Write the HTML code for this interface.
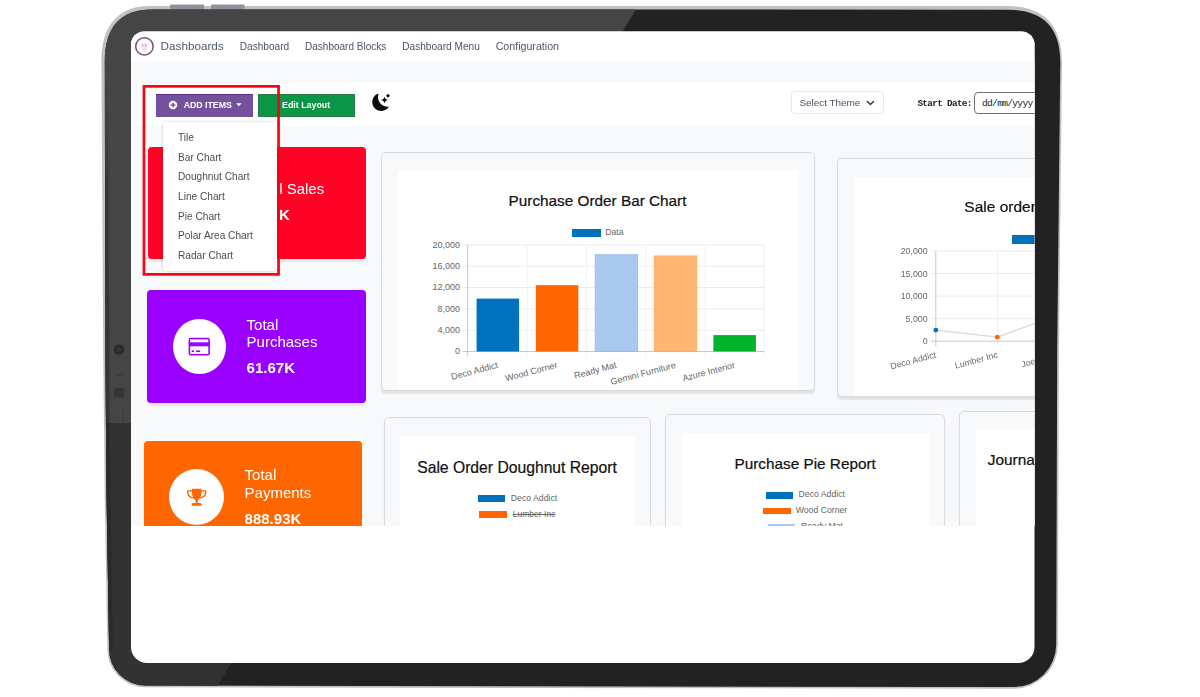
<!DOCTYPE html>
<html>
<head>
<meta charset="utf-8">
<title>Dashboards</title>
<style>
html,body{margin:0;padding:0;background:#fff;}
body{width:1200px;height:697px;position:relative;overflow:hidden;font-family:"Liberation Sans",sans-serif;}
.abs{position:absolute;}
#frame{position:absolute;left:0;top:0;width:1200px;height:697px;}
#screen{position:absolute;left:0;top:0;width:1200px;height:697px;background:#fff;
  clip-path:path("M144 31.5 H1021.5 A13 13 0 0 1 1034.5 44.5 V647 A16 16 0 0 1 1018.5 663 H147 A16 16 0 0 1 131 647 V44.5 A13 13 0 0 1 144 31.5 Z");}
#page{position:absolute;left:0;top:0;width:1200px;height:525.6px;overflow:hidden;background:#fff;}
#blur{position:absolute;left:0;top:0;width:1200px;height:540px;filter:blur(0.35px);}
.t{position:absolute;white-space:pre;line-height:1;}
.nav{color:#4a5568;font-size:10.15px;top:41.9px;}
.mi{color:#4d4d4d;font-size:10.15px;left:178px;}
.card{position:absolute;background:#f8f9fa;border:1px solid #d9dadb;border-radius:5px;box-sizing:border-box;box-shadow:0 3px 1.5px -0.5px rgba(0,0,0,.085);}
.white{position:absolute;background:#fff;}
.title{color:#111;-webkit-text-stroke:0.22px #111;}
.tile{position:absolute;border-radius:4px;box-shadow:0 3.2px 1.5px -0.5px rgba(0,0,0,.065);}
.circ{position:absolute;width:53.2px;height:53.2px;border-radius:50%;background:#fff;}
.tl{color:#fff;font-size:15px;}
.tv{color:#fff;font-size:15px;font-weight:700;}
.ax{color:#666;font-size:8.8px;}
.lg{color:#666;font-size:8.7px;}
</style>
</head>
<body>

<!-- tablet frame -->
<svg id="frame" viewBox="0 0 1200 697">
  <defs>
    <clipPath id="fc"><path d="M152 9.4 L1008 9.7 C1040 9.7 1060.3 24 1060.3 62 L1057.2 350 L1056.2 644.5 A42.6 42.6 0 0 1 1013.5 687.1 L145.4 685.6 A36.3 36.3 0 0 1 109.1 649 L106.6 500 L105.3 349 L104.8 62 C104.8 25 122 9.4 152 9.4 Z"/></clipPath>
    <filter id="fb" x="-5%" y="-5%" width="110%" height="110%"><feGaussianBlur stdDeviation="0.75"/></filter>
    <filter id="fb2" x="-5%" y="-5%" width="110%" height="110%"><feGaussianBlur stdDeviation="0.45"/></filter>
    <linearGradient id="lg1" x1="0" y1="0" x2="0" y2="1">
      <stop offset="0" stop-color="#444" stop-opacity="0"/>
      <stop offset="0.35" stop-color="#353535" stop-opacity="1"/>
      <stop offset="1" stop-color="#353535" stop-opacity="1"/>
    </linearGradient>
  </defs>
  <!-- soft light rim -->
  <g filter="url(#fb)">
    <path d="M150 5.9 L1008 6.1 C1041 6.1 1062 22.5 1062 62 L1058.9 350 L1057.9 644.5 A44.3 44.3 0 0 1 1013.5 688.8 L145.4 687.3 A38 38 0 0 1 107.4 649 L104.7 500 L103.2 349 L101.7 100 L101.4 62 C101.4 23 120 5.9 150 5.9 Z" fill="#c0c1c5"/>
  </g>
  <!-- side buttons -->
  <rect x="170" y="4.4" width="34" height="5" rx="1.2" fill="#8e9198" filter="url(#fb2)"/>
  <rect x="211" y="4.4" width="33.5" height="5" rx="1.2" fill="#8e9198" filter="url(#fb2)"/>
  <g filter="url(#fb2)">
  <g clip-path="url(#fc)">
    <rect x="90" y="0" width="1000" height="697" fill="#202020"/>
    <polygon points="90,0 642,0 621,34 150,34 150,423 90,423" fill="#444444"/>
    <polygon points="90,423 150,423 150,655 236,655 214,692 90,692" fill="#303030"/>
    <polygon points="100,60 108,60 109.6,423 100,423" fill="url(#lg1)"/>
    <polygon points="100,423 109.6,423 112.5,650 100,650" fill="#2a2a2a"/>
    <!-- camera + sensors -->
    <circle cx="119" cy="349.5" r="5.2" fill="#2c2c2c"/>
    <circle cx="119" cy="349.5" r="2.6" fill="#2d353b"/>
    <path d="M115.5 373.5 Q119 377.5 122.5 373.5" stroke="#333" stroke-width="1" fill="none"/>
    <rect x="113.5" y="388" width="11" height="9.5" rx="3.5" fill="#363636"/>
    <rect x="122" y="412" width="1.4" height="3" fill="#383838"/>
    <rect x="122" y="418" width="1.4" height="3" fill="#383838"/>
  </g>
  </g>
</svg>

<div id="screen">
<div id="page"><div id="blur">
  <!-- backgrounds -->
  <div class="abs" style="left:131px;top:61.8px;width:904px;height:470px;background:#f8f9fb;"></div>
  <div class="abs" style="left:138.2px;top:83px;width:900px;height:42.6px;background:#fff;"></div>

  <!-- navbar -->
  <svg class="abs" style="left:133px;top:34.5px" width="23" height="23" viewBox="0 0 23 23">
    <circle cx="11.4" cy="11.4" r="8.7" fill="#fff" stroke="#7c4a82" stroke-width="1.5"/>
    <circle cx="11.4" cy="11.6" r="4" fill="#f6eef2"/>
    <rect x="9.2" y="9" width="1.5" height="2.6" fill="#dcb6cf" opacity=".8"/>
    <rect x="11.7" y="8.6" width="1.9" height="3.4" fill="#cdb0d6" opacity=".8"/>
    <rect x="10" y="13.4" width="2.8" height="1" fill="#ecc9c4" opacity=".8"/>
  </svg>
  <div class="t" style="left:160.6px;top:39.6px;font-size:11.7px;color:#4b586b;">Dashboards</div>
  <div class="t nav" style="left:239.7px;">Dashboard</div>
  <div class="t nav" style="left:305px;font-size:10.02px;">Dashboard Blocks</div>
  <div class="t nav" style="left:402.2px;">Dashboard Menu</div>
  <div class="t nav" style="left:495.7px;font-size:10.65px;top:40.9px;">Configuration</div>

  <!-- red tile (behind dropdown) -->
  <div class="tile" style="left:148.4px;top:146.9px;width:217.8px;height:112px;background:#ff0226;"></div>
  <div class="t tl" style="left:250.8px;top:181.2px;"><span style="color:transparent">Tota</span>l Sales</div>
  <div class="t tv" style="left:279px;top:207.4px;">K</div>

  <!-- toolbar buttons -->
  <div class="abs" style="left:156.1px;top:93.5px;width:97.2px;height:23.5px;background:#75509c;border-top:1px solid #5e3188;box-sizing:border-box;"></div>
  <svg class="abs" style="left:167.7px;top:100.1px" width="10" height="10" viewBox="0 0 10 10">
    <circle cx="5" cy="5" r="4.2" fill="#fff"/>
    <rect x="2.6" y="4.25" width="4.8" height="1.5" fill="#75509c"/>
    <rect x="4.25" y="2.6" width="1.5" height="4.8" fill="#75509c"/>
  </svg>
  <div class="t" style="left:183.7px;top:100.7px;font-size:8.75px;font-weight:700;color:#fff;">ADD ITEMS</div>
  <svg class="abs" style="left:235.6px;top:103.2px" width="6" height="4" viewBox="0 0 6 4"><path d="M0.2 0.3 L5.6 0.3 L2.9 3.3 Z" fill="#fff"/></svg>

  <div class="abs" style="left:258.2px;top:93.5px;width:96.9px;height:23.5px;background:#0a9647;border:1px solid #2a7a45;box-sizing:border-box;"></div>
  <div class="t" style="left:282px;top:100.5px;font-size:8.85px;font-weight:700;color:#fff;">Edit Layout</div>

  <!-- moon icon -->
  <svg class="abs" style="left:370px;top:91px" width="22" height="22" viewBox="0 0 22 22">
    <path d="M8.67 2.44 A8.95 8.95 0 1 0 18.83 15.7 A9.75 9.75 0 0 1 8.67 2.44 Z" fill="#0b0b0b"/>
    <path d="M14.5 5.7 L15.55 7.95 L17.8 9 L15.55 10.05 L14.5 12.3 L13.45 10.05 L11.2 9 L13.45 7.95 Z" fill="#0b0b0b"/>
    <path d="M17.97 2.7 L19.9 4.68 L17.97 6.66 L16.04 4.68 Z" fill="#0b0b0b"/>
  </svg>

  <!-- select theme -->
  <div class="abs" style="left:791.2px;top:91.3px;width:92.6px;height:23.2px;background:#fff;border:1px solid #e7e8ea;border-radius:4px;box-sizing:border-box;"></div>
  <div class="t" style="left:799.4px;top:98.4px;font-size:9.92px;color:#4a5261;">Select Theme</div>
  <svg class="abs" style="left:865.5px;top:100.3px" width="9" height="6" viewBox="0 0 9 6"><path d="M0.9 1 L4.4 4.5 L7.9 1" fill="none" stroke="#333" stroke-width="1.3"/></svg>

  <!-- start date -->
  <div class="t" style="left:917.4px;top:98.9px;font-size:9.4px;letter-spacing:-0.69px;font-weight:700;color:#222;font-family:'Liberation Mono',monospace;">Start Date:</div>
  <div class="abs" style="left:973.7px;top:92.4px;width:80px;height:21.4px;background:#fff;border:1px solid #707070;border-radius:4px;box-sizing:border-box;"></div>
  <div class="t" style="left:982px;top:98.5px;font-size:9.6px;letter-spacing:-0.71px;color:#222;font-family:'Liberation Mono',monospace;">dd/mm/yyyy</div>

  <!-- dropdown menu -->
  <div class="abs" style="left:163px;top:121.6px;width:114.2px;height:149.8px;background:#fff;border-radius:3px;box-shadow:0 0 3px rgba(0,0,0,.22);"></div>
  <div class="t mi" style="top:133px;">Tile</div>
  <div class="t mi" style="top:152.7px;">Bar Chart</div>
  <div class="t mi" style="top:172.3px;">Doughnut Chart</div>
  <div class="t mi" style="top:191.9px;">Line Chart</div>
  <div class="t mi" style="top:211.5px;">Pie Chart</div>
  <div class="t mi" style="top:231.1px;">Polar Area Chart</div>
  <div class="t mi" style="top:250.7px;">Radar Chart</div>

  <!-- red highlight box -->
  <svg class="abs" style="left:140px;top:82px" width="144" height="198" viewBox="140 82 144 198"><rect x="143.95" y="86.35" width="134.6" height="188" fill="none" stroke="#ff0012" stroke-width="2.7"/></svg>

  <!-- purple tile -->
  <div class="tile" style="left:147.1px;top:290px;width:218.7px;height:112.9px;background:#9900ff;"></div>
  <div class="circ" style="left:172.9px;top:318.5px;width:53.2px;height:55.5px;"></div>
  <svg class="abs" style="left:188px;top:337px" width="23" height="19" viewBox="188 337 23 19">
    <rect x="188.6" y="337.8" width="21.3" height="17.6" rx="2.2" fill="#9900ff"/>
    <rect x="190.2" y="339.4" width="18.1" height="2.9" fill="#fff"/>
    <rect x="190.2" y="346.3" width="18.1" height="7.6" fill="#fff"/>
    <rect x="191.7" y="350.4" width="2.3" height="1.7" fill="#9900ff"/>
    <rect x="196.1" y="350.4" width="4.1" height="1.7" fill="#9900ff"/>
  </svg>
  <div class="t tl" style="left:246.6px;top:316.7px;">Total</div>
  <div class="t tl" style="left:246.6px;top:334.1px;">Purchases</div>
  <div class="t tv" style="left:246.6px;top:360.3px;">61.67K</div>

  <!-- orange tile -->
  <div class="tile" style="left:143.8px;top:440.8px;width:218.3px;height:112.9px;background:#ff6600;"></div>
  <div class="circ" style="left:169.3px;top:468.8px;width:54.9px;height:56.2px;"></div>
  <svg class="abs" style="left:185px;top:487px" width="24" height="21" viewBox="185 487 24 21">
    <path d="M191.9 488.7 H201.5 V492 C201.5 496.6 199.6 499.2 197.9 500.2 V502.8 H195.5 V500.2 C193.8 499.2 191.9 496.6 191.9 492 Z" fill="#ff6600"/>
    <path d="M191.7 505.8 V504.7 Q191.7 502.9 193.5 502.9 H199.9 Q201.7 502.9 201.7 504.7 V505.8 Z" fill="#ff6600"/>
    <path d="M192.2 490.9 H187.7 V492 C187.7 495.2 190.2 497.5 193.6 497.9" fill="none" stroke="#ff6600" stroke-width="1.4"/>
    <path d="M201.2 490.9 H205.7 V492 C205.7 495.2 203.2 497.5 199.8 497.9" fill="none" stroke="#ff6600" stroke-width="1.4"/>
  </svg>
  <div class="t tl" style="left:244.6px;top:467.1px;">Total</div>
  <div class="t tl" style="left:244.6px;top:484.6px;">Payments</div>
  <div class="t tv" style="left:244.6px;top:510.8px;">888.93K</div>

  <!-- CARD 1: bar chart -->
  <div class="card" style="left:381.4px;top:152px;width:433.2px;height:238.6px;"></div>
  <div class="white" style="left:397px;top:169.6px;width:402px;height:220.2px;"></div>
  <div class="t title" style="left:508.6px;top:192.6px;font-size:15.32px;">Purchase Order Bar Chart</div>
  <div class="abs" style="left:571.9px;top:228.7px;width:29.1px;height:8.4px;background:#0071bc;"></div>
  <div class="t lg" style="left:605.2px;top:227.6px;">Data</div>
  <svg class="abs" style="left:397px;top:169.6px" width="402" height="220" viewBox="397 169.6 402 220">
    <g stroke="#ececec" stroke-width="1" fill="none">
      <path d="M463 244.5H764 M463 265.8H764 M463 287.1H764 M463 308.5H764 M463 329.8H764"/>
      <path stroke="#f2f2f2" d="M527.2 244.5V356 M586.5 244.5V356 M645.7 244.5V356 M705 244.5V356 M764.2 244.5V356"/>
    </g>
    <g stroke="#c9c9c9" stroke-width="1" fill="none">
      <path d="M463 351.1H764.2 M467.7 244.5V356"/>
    </g>
    <rect x="476.6" y="298.2" width="42.5" height="52.9" fill="#0071bc"/>
    <rect x="535.8" y="284.8" width="42.5" height="66.3" fill="#ff6600"/>
    <rect x="595.2" y="254.3" width="42.5" height="96.8" fill="#a9c9ee" stroke="#9db5ea" stroke-width="0.8"/>
    <rect x="654.3" y="255.5" width="42.5" height="95.6" fill="#ffb574" stroke="#ffa860" stroke-width="0.8"/>
    <rect x="713.4" y="334.7" width="42.5" height="16.4" fill="#00b32d"/>
    <g font-family="Liberation Sans, sans-serif" font-size="9" fill="#666" text-anchor="end">
      <text x="460" y="247.5">20,000</text>
      <text x="460" y="268.8">16,000</text>
      <text x="460" y="290.1">12,000</text>
      <text x="460" y="311.5">8,000</text>
      <text x="460" y="332.8">4,000</text>
      <text x="460" y="354.1">0</text>
      <text transform="translate(498.5,367.2) rotate(-15)">Deco Addict</text>
      <text transform="translate(557.8,367.2) rotate(-15)">Wood Corner</text>
      <text transform="translate(617,367.2) rotate(-15)">Ready Mat</text>
      <text transform="translate(676.3,367.2) rotate(-15)">Gemini Furniture</text>
      <text transform="translate(735.6,367.2) rotate(-15)">Azure Interior</text>
    </g>
  </svg>

  <!-- CARD 2: line chart -->
  <div class="card" style="left:837.4px;top:158.2px;width:240px;height:238.4px;"></div>
  <div class="white" style="left:854.1px;top:176.7px;width:200px;height:219px;"></div>
  <div class="t title" style="left:964.3px;top:198.7px;font-size:15.5px;">Sale order Line Chart</div>
  <div class="abs" style="left:1011.7px;top:235.3px;width:29px;height:8.5px;background:#0071bc;"></div>
  <svg class="abs" style="left:854px;top:176.7px" width="200" height="219" viewBox="854 176.7 200 219">
    <g stroke="#ececec" stroke-width="1" fill="none">
      <path d="M931 250.7H1060 M931 273.2H1060 M931 295.8H1060 M931 318.3H1060"/>
      <path stroke="#f0f0f0" d="M997.5 250.7V346"/>
    </g>
    <g stroke="#c9c9c9" stroke-width="1" fill="none">
      <path d="M931 340.9H1060 M935.8 250.7V346"/>
    </g>
    <path d="M935.8 329.8 L997.3 336.9 L1059 314.2" stroke="#d8d8d8" stroke-width="1.3" fill="none"/>
    <circle cx="935.8" cy="329.8" r="2.4" fill="#0071bc"/>
    <circle cx="997.3" cy="336.9" r="2.4" fill="#ff6600"/>
    <g font-family="Liberation Sans, sans-serif" font-size="8.8" fill="#666" text-anchor="end">
      <text x="927.6" y="253.8">20,000</text>
      <text x="927.6" y="276.4">15,000</text>
      <text x="927.6" y="298.9">10,000</text>
      <text x="927.6" y="321.5">5,000</text>
      <text x="927.6" y="344">0</text>
      <text transform="translate(936.6,357) rotate(-15)">Deco Addict</text>
      <text transform="translate(998.3,357) rotate(-15)">Lumber Inc</text>
      <text transform="translate(1060,357) rotate(-15)">Joel Willis</text>
    </g>
  </svg>

  <!-- CARD 3: doughnut -->
  <div class="card" style="left:384.4px;top:417.4px;width:266.4px;height:200px;"></div>
  <div class="white" style="left:399.9px;top:435.9px;width:235px;height:200px;"></div>
  <div class="t title" style="left:417.2px;top:460.4px;font-size:15.7px;">Sale Order Doughnut Report</div>
  <div class="abs" style="left:477.7px;top:495.1px;width:27.8px;height:7.3px;background:#0071bc;"></div>
  <div class="t lg" style="left:510.8px;top:493.5px;">Deco Addict</div>
  <div class="abs" style="left:479.4px;top:511.3px;width:27.8px;height:6.9px;background:#ff6600;"></div>
  <div class="t lg" style="left:512.7px;top:510px;font-size:8.56px;text-decoration:line-through;">Lumber Inc</div>

  <!-- CARD 4: pie -->
  <div class="card" style="left:665.4px;top:413.8px;width:279.4px;height:200px;"></div>
  <div class="white" style="left:682px;top:432.5px;width:247px;height:200px;"></div>
  <div class="t title" style="left:734.5px;top:455.8px;font-size:15.32px;">Purchase Pie Report</div>
  <div class="abs" style="left:765.5px;top:491.9px;width:27.6px;height:6.7px;background:#0071bc;"></div>
  <div class="t lg" style="left:798.6px;top:490.1px;">Deco Addict</div>
  <div class="abs" style="left:763.2px;top:507.8px;width:27.4px;height:6.7px;background:#ff6600;"></div>
  <div class="t lg" style="left:795.7px;top:506px;">Wood Corner</div>
  <div class="abs" style="left:767.8px;top:523.5px;width:27.6px;height:6.7px;background:#a9c9ee;"></div>
  <div class="t lg" style="left:801px;top:521.6px;">Ready Mat</div>

  <!-- CARD 5: journal -->
  <div class="card" style="left:959.3px;top:410.5px;width:200px;height:200px;"></div>
  <div class="white" style="left:976px;top:429.2px;width:200px;height:200px;"></div>
  <div class="t title" style="left:987.8px;top:451.8px;font-size:15.4px;">Journal Items</div>
</div></div>
</div>

</body>
</html>
